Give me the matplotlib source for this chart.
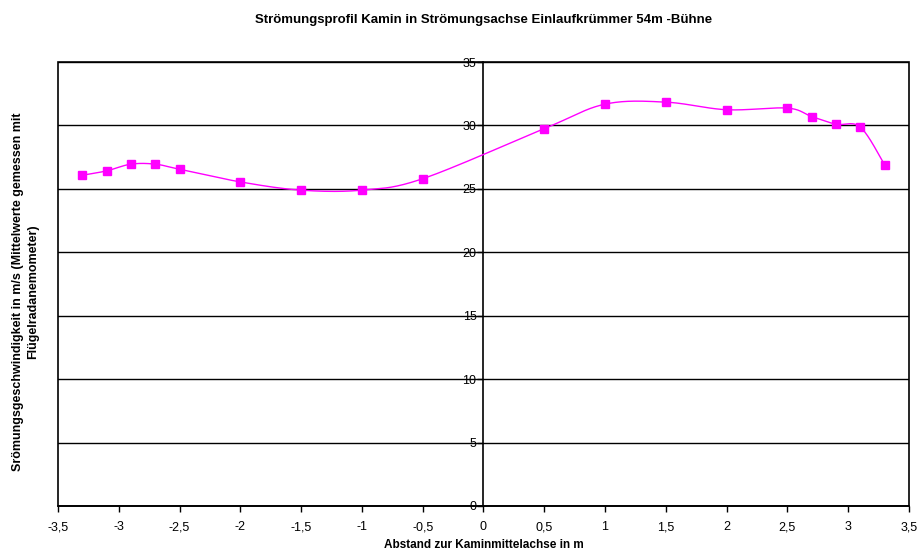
import numpy as np
import matplotlib.pyplot as plt
from matplotlib.ticker import FuncFormatter

plt.rcParams['font.family'] = ['Liberation Sans', 'DejaVu Sans']

# Abstand zur Kaminmittelachse (m) und Strömungsgeschwindigkeit (m/s)
abstand = [-3.3, -3.1, -2.9, -2.7, -2.5, -2.0, -1.5, -1.0, -0.5,
           0.5, 1.0, 1.5, 2.0, 2.5, 2.7, 2.9, 3.1, 3.3]
geschw = [26.08, 26.42, 26.95, 26.95, 26.55, 25.55, 24.9, 24.9, 25.8,
          29.75, 31.68, 31.84, 31.24, 31.37, 30.7, 30.1, 29.87, 26.9]

x_ticks = np.arange(-3.5, 3.51, 0.5)
y_ticks = np.arange(0, 36, 5)


def smooth(xs, ys, n=30):
    # catmull-rom -> bezier, roughly like excel's smoothed line
    p = np.column_stack([xs, ys])
    p = np.vstack([p[0], p, p[-1]])
    out = []
    t = np.linspace(0, 1, n)[:, None]
    for i in range(1, len(p) - 2):
        p0, p1, p2, p3 = p[i - 1], p[i], p[i + 1], p[i + 2]
        c1 = p1 + (p2 - p0) / 6
        c2 = p2 - (p3 - p1) / 6
        seg = ((1 - t) ** 3) * p1 + 3 * ((1 - t) ** 2) * t * c1 + 3 * (1 - t) * t ** 2 * c2 + t ** 3 * p2
        out.append(seg)
    out = np.vstack(out)
    return out[:, 0], out[:, 1]


fig = plt.figure(figsize=(9.2, 5.57), dpi=100)
ax = fig.add_axes([0.063, 0.0916, 0.925, 0.797])

sx, sy = smooth(abstand, geschw)
ax.plot(sx, sy, color='#FF00FF', lw=1.0, zorder=3)
ax.plot(abstand, geschw, ls='none', marker='s', ms=5.5, color='#FF00FF', zorder=4)

ax.set_xlim(-3.5, 3.5)
ax.set_ylim(0, 35)
ax.set_xticks(x_ticks)
ax.set_yticks(y_ticks)
fmt = FuncFormatter(lambda v, pos: ('%g' % v).replace('.', ','))
ax.xaxis.set_major_formatter(fmt)
ax.yaxis.set_major_formatter(fmt)

ax.yaxis.grid(True, color='black', lw=1)
ax.set_axisbelow(True)

ax.spines['left'].set_position(('data', 0))
ax.spines['right'].set_visible(False)
ax.spines['top'].set_visible(False)
for s in ax.spines.values():
    s.set_linewidth(1.2)
ax.patch.set_edgecolor('black')
ax.patch.set_linewidth(1.2)

ax.tick_params(axis='both', direction='out', length=4, width=1, labelsize=9)
ax.tick_params(axis='x', pad=7)
ax.tick_params(axis='y', pad=1)

ax.set_title('Strömungsprofil Kamin in Strömungsachse Einlaufkrümmer 54m -Bühne',
             fontsize=9.5, fontweight='bold', pad=28)
ax.set_xlabel('Abstand zur Kaminmittelachse in m', fontsize=8.5, fontweight='bold', labelpad=4)
fig.text(0.028, 0.477, 'Srömungsgeschwindigkeit in m/s (Mittelwerte gemessen mit\nFlügelradanemometer)',
         rotation=90, ha='center', va='center', fontsize=9, fontweight='bold',
         multialignment='center', linespacing=1.4)

fig.savefig('out.png', dpi=100)
